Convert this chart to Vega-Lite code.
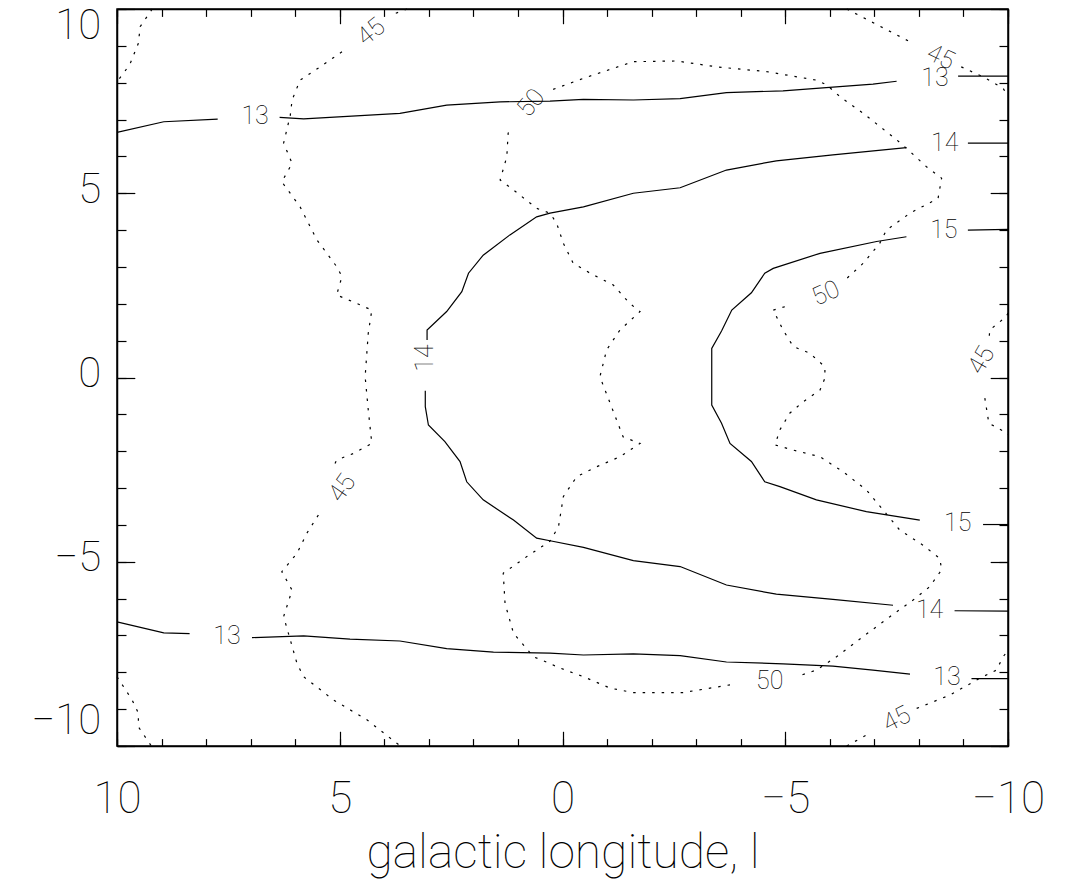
{
"$schema":"https://vega.github.io/schema/vega-lite/v6.json",
"width":891,"height":737,
"autosize":{"type":"none"},
"padding":{"left":117,"top":9,"right":57,"bottom":140},
"background":"white",
"config":{
 "view":{"stroke":"black","strokeWidth":1.5},
 "axis":{"grid":false,"domainColor":"black","domainWidth":1.5,"tickColor":"black","tickWidth":1.2,"labelColor":"black","titleColor":"black","labelFont":"Roboto","titleFont":"Roboto","labelFontWeight":100,"titleFontWeight":100,"labelFontSize":42,"titleFontSize":48},
 "text":{"font":"Roboto","fontWeight":100,"fontSize":25,"color":"black","align":"center","baseline":"middle"}
},
"datasets":{
"lines":[
{"level":13,"seg":"13ua","i":1,"l":10,"b":6.65},{"level":13,"seg":"13ua","i":2,"l":8.95,"b":6.94},{"level":13,"seg":"13ua","i":3,"l":7.74,"b":7.01},
{"level":13,"seg":"13ub","i":4,"l":6.35,"b":7.06},{"level":13,"seg":"13ub","i":5,"l":5.81,"b":7.02},{"level":13,"seg":"13ub","i":6,"l":3.65,"b":7.17},{"level":13,"seg":"13ub","i":7,"l":2.60,"b":7.39},{"level":13,"seg":"13ub","i":8,"l":1.40,"b":7.48},{"level":13,"seg":"13ub","i":9,"l":0.28,"b":7.50},{"level":13,"seg":"13ub","i":10,"l":-0.47,"b":7.55},{"level":13,"seg":"13ub","i":11,"l":-1.59,"b":7.53},{"level":13,"seg":"13ub","i":12,"l":-2.64,"b":7.57},{"level":13,"seg":"13ub","i":13,"l":-3.68,"b":7.73},{"level":13,"seg":"13ub","i":14,"l":-4.95,"b":7.78},{"level":13,"seg":"13ub","i":15,"l":-6.07,"b":7.88},{"level":13,"seg":"13ub","i":16,"l":-6.97,"b":7.96},{"level":13,"seg":"13ub","i":17,"l":-7.50,"b":8.04},
{"level":13,"seg":"13uc","i":18,"l":-8.88,"b":8.18},{"level":13,"seg":"13uc","i":19,"l":-10,"b":8.18},
{"level":14,"seg":"14r1","i":20,"l":-9.10,"b":6.36},{"level":14,"seg":"14r1","i":21,"l":-10,"b":6.36},
{"level":14,"seg":"14up","i":22,"l":-7.72,"b":6.24},{"level":14,"seg":"14up","i":23,"l":-6.07,"b":6.04},{"level":14,"seg":"14up","i":24,"l":-4.80,"b":5.88},{"level":14,"seg":"14up","i":25,"l":-3.68,"b":5.63},{"level":14,"seg":"14up","i":26,"l":-2.64,"b":5.15},{"level":14,"seg":"14up","i":27,"l":-1.59,"b":5.00},{"level":14,"seg":"14up","i":28,"l":-0.47,"b":4.63},{"level":14,"seg":"14up","i":29,"l":0.28,"b":4.46},{"level":14,"seg":"14up","i":30,"l":0.58,"b":4.36},{"level":14,"seg":"14up","i":31,"l":1.18,"b":3.87},{"level":14,"seg":"14up","i":32,"l":1.78,"b":3.32},{"level":14,"seg":"14up","i":33,"l":2.11,"b":2.83},{"level":14,"seg":"14up","i":34,"l":2.26,"b":2.33},{"level":14,"seg":"14up","i":35,"l":2.60,"b":1.79},{"level":14,"seg":"14up","i":36,"l":3.04,"b":1.29},{"level":14,"seg":"14up","i":37,"l":3.04,"b":1.02},
{"level":14,"seg":"14lo","i":38,"l":3.08,"b":-0.36},{"level":14,"seg":"14lo","i":39,"l":3.08,"b":-0.79},{"level":14,"seg":"14lo","i":40,"l":3.01,"b":-1.29},{"level":14,"seg":"14lo","i":41,"l":2.64,"b":-1.74},{"level":14,"seg":"14lo","i":42,"l":2.30,"b":-2.28},{"level":14,"seg":"14lo","i":43,"l":2.15,"b":-2.83},{"level":14,"seg":"14lo","i":44,"l":1.78,"b":-3.32},{"level":14,"seg":"14lo","i":45,"l":1.10,"b":-3.87},{"level":14,"seg":"14lo","i":46,"l":0.58,"b":-4.36},{"level":14,"seg":"14lo","i":47,"l":0.28,"b":-4.43},{"level":14,"seg":"14lo","i":48,"l":-0.47,"b":-4.61},{"level":14,"seg":"14lo","i":49,"l":-1.59,"b":-4.97},{"level":14,"seg":"14lo","i":50,"l":-2.64,"b":-5.13},{"level":14,"seg":"14lo","i":51,"l":-3.68,"b":-5.63},{"level":14,"seg":"14lo","i":52,"l":-4.80,"b":-5.88},{"level":14,"seg":"14lo","i":53,"l":-6.07,"b":-6.02},{"level":14,"seg":"14lo","i":54,"l":-7.42,"b":-6.18},
{"level":14,"seg":"14r2","i":55,"l":-8.80,"b":-6.33},{"level":14,"seg":"14r2","i":56,"l":-10,"b":-6.34},
{"level":15,"seg":"15r1","i":57,"l":-9.10,"b":4.00},{"level":15,"seg":"15r1","i":58,"l":-10,"b":4.02},
{"level":15,"seg":"15m","i":59,"l":-7.72,"b":3.82},{"level":15,"seg":"15m","i":60,"l":-7.05,"b":3.69},{"level":15,"seg":"15m","i":61,"l":-5.78,"b":3.37},{"level":15,"seg":"15m","i":62,"l":-4.73,"b":2.96},{"level":15,"seg":"15m","i":63,"l":-4.54,"b":2.83},{"level":15,"seg":"15m","i":64,"l":-4.24,"b":2.30},{"level":15,"seg":"15m","i":65,"l":-3.80,"b":1.83},{"level":15,"seg":"15m","i":66,"l":-3.57,"b":1.26},{"level":15,"seg":"15m","i":67,"l":-3.35,"b":0.79},{"level":15,"seg":"15m","i":68,"l":-3.35,"b":0},{"level":15,"seg":"15m","i":69,"l":-3.35,"b":-0.75},{"level":15,"seg":"15m","i":70,"l":-3.57,"b":-1.24},{"level":15,"seg":"15m","i":71,"l":-3.76,"b":-1.79},{"level":15,"seg":"15m","i":72,"l":-4.24,"b":-2.28},{"level":15,"seg":"15m","i":73,"l":-4.54,"b":-2.83},{"level":15,"seg":"15m","i":74,"l":-4.88,"b":-2.96},{"level":15,"seg":"15m","i":75,"l":-5.70,"b":-3.32},{"level":15,"seg":"15m","i":76,"l":-6.82,"b":-3.64},{"level":15,"seg":"15m","i":77,"l":-8.02,"b":-3.87},
{"level":15,"seg":"15r2","i":78,"l":-9.44,"b":-3.99},{"level":15,"seg":"15r2","i":79,"l":-10,"b":-3.99},
{"level":13,"seg":"13la","i":80,"l":10,"b":-6.63},{"level":13,"seg":"13la","i":81,"l":8.95,"b":-6.93},{"level":13,"seg":"13la","i":82,"l":8.37,"b":-6.95},
{"level":13,"seg":"13lb","i":83,"l":6.97,"b":-7.06},{"level":13,"seg":"13lb","i":84,"l":5.81,"b":-7.01},{"level":13,"seg":"13lb","i":85,"l":4.77,"b":-7.10},{"level":13,"seg":"13lb","i":86,"l":3.65,"b":-7.15},{"level":13,"seg":"13lb","i":87,"l":2.60,"b":-7.36},{"level":13,"seg":"13lb","i":88,"l":1.55,"b":-7.45},{"level":13,"seg":"13lb","i":89,"l":0.28,"b":-7.48},{"level":13,"seg":"13lb","i":90,"l":-0.47,"b":-7.53},{"level":13,"seg":"13lb","i":91,"l":-1.59,"b":-7.50},{"level":13,"seg":"13lb","i":92,"l":-2.64,"b":-7.55},{"level":13,"seg":"13lb","i":93,"l":-3.68,"b":-7.72},{"level":13,"seg":"13lb","i":94,"l":-4.95,"b":-7.77},{"level":13,"seg":"13lb","i":95,"l":-6.07,"b":-7.83},{"level":13,"seg":"13lb","i":96,"l":-6.97,"b":-7.94},{"level":13,"seg":"13lb","i":97,"l":-7.80,"b":-8.05},
{"level":13,"seg":"13lc","i":98,"l":-9.18,"b":-8.17},{"level":13,"seg":"13lc","i":99,"l":-10,"b":-8.17},
{"level":45,"seg":"45at","i":100,"l":3.49,"b":10},{"level":45,"seg":"45at","i":101,"l":3.80,"b":9.86},
{"level":45,"seg":"45am","i":102,"l":4.95,"b":8.84},{"level":45,"seg":"45am","i":103,"l":5.44,"b":8.43},{"level":45,"seg":"45am","i":104,"l":5.89,"b":8.07},{"level":45,"seg":"45am","i":105,"l":6.07,"b":7.53},{"level":45,"seg":"45am","i":106,"l":6.11,"b":7.12},{"level":45,"seg":"45am","i":107,"l":6.26,"b":6.36},{"level":45,"seg":"45am","i":108,"l":6.07,"b":5.81},{"level":45,"seg":"45am","i":109,"l":6.30,"b":5.31},{"level":45,"seg":"45am","i":110,"l":5.89,"b":4.63},{"level":45,"seg":"45am","i":111,"l":5.51,"b":3.73},{"level":45,"seg":"45am","i":112,"l":5.07,"b":3.01},{"level":45,"seg":"45am","i":113,"l":4.95,"b":2.74},{"level":45,"seg":"45am","i":114,"l":5.07,"b":2.24},{"level":45,"seg":"45am","i":115,"l":4.62,"b":2.01},{"level":45,"seg":"45am","i":116,"l":4.28,"b":1.83},{"level":45,"seg":"45am","i":117,"l":4.36,"b":1.20},{"level":45,"seg":"45am","i":118,"l":4.43,"b":0.02},{"level":45,"seg":"45am","i":119,"l":4.36,"b":-0.88},{"level":45,"seg":"45am","i":120,"l":4.28,"b":-1.79},{"level":45,"seg":"45am","i":121,"l":4.69,"b":-2.06},{"level":45,"seg":"45am","i":122,"l":5.07,"b":-2.24},{"level":45,"seg":"45am","i":123,"l":5.14,"b":-2.42},
{"level":45,"seg":"45al","i":124,"l":5.48,"b":-3.73},{"level":45,"seg":"45al","i":125,"l":5.74,"b":-4.23},{"level":45,"seg":"45al","i":126,"l":5.96,"b":-4.77},{"level":45,"seg":"45al","i":127,"l":6.30,"b":-5.27},{"level":45,"seg":"45al","i":128,"l":6.07,"b":-5.77},{"level":45,"seg":"45al","i":129,"l":6.26,"b":-6.49},{"level":45,"seg":"45al","i":130,"l":6.11,"b":-7.12},{"level":45,"seg":"45al","i":131,"l":5.96,"b":-7.76},{"level":45,"seg":"45al","i":132,"l":5.81,"b":-8.12},{"level":45,"seg":"45al","i":133,"l":5.14,"b":-8.75},{"level":45,"seg":"45al","i":134,"l":4.39,"b":-9.29},{"level":45,"seg":"45al","i":135,"l":3.64,"b":-10},
{"level":45,"seg":"45b","i":136,"l":9.21,"b":10},{"level":45,"seg":"45b","i":137,"l":9.48,"b":9.52},{"level":45,"seg":"45b","i":138,"l":9.52,"b":9.07},{"level":45,"seg":"45b","i":139,"l":9.70,"b":8.53},{"level":45,"seg":"45b","i":140,"l":9.85,"b":8.26},{"level":45,"seg":"45b","i":141,"l":10,"b":8.03},
{"level":45,"seg":"45c","i":142,"l":10,"b":-8.12},{"level":45,"seg":"45c","i":143,"l":9.66,"b":-8.75},{"level":45,"seg":"45c","i":144,"l":9.52,"b":-9.11},{"level":45,"seg":"45c","i":145,"l":9.52,"b":-9.48},{"level":45,"seg":"45c","i":146,"l":9.23,"b":-10},
{"level":45,"seg":"45da","i":147,"l":-6.38,"b":10},{"level":45,"seg":"45da","i":148,"l":-7.80,"b":9.11},
{"level":45,"seg":"45db","i":149,"l":-8.95,"b":8.43},{"level":45,"seg":"45db","i":150,"l":-9.44,"b":8.16},{"level":45,"seg":"45db","i":151,"l":-9.89,"b":7.85},{"level":45,"seg":"45db","i":152,"l":-10,"b":7.62},
{"level":45,"seg":"45ea","i":153,"l":-6.38,"b":-10},{"level":45,"seg":"45ea","i":154,"l":-6.90,"b":-9.65},
{"level":45,"seg":"45eb","i":155,"l":-7.95,"b":-8.98},{"level":45,"seg":"45eb","i":156,"l":-8.69,"b":-8.62},{"level":45,"seg":"45eb","i":157,"l":-9.37,"b":-8.16},{"level":45,"seg":"45eb","i":158,"l":-9.74,"b":-7.94},{"level":45,"seg":"45eb","i":159,"l":-9.89,"b":-7.58},{"level":45,"seg":"45eb","i":160,"l":-10,"b":-7.40},
{"level":45,"seg":"45fa","i":161,"l":-10,"b":1.75},{"level":45,"seg":"45fa","i":162,"l":-9.96,"b":1.65},{"level":45,"seg":"45fa","i":163,"l":-9.59,"b":1.29},{"level":45,"seg":"45fa","i":164,"l":-9.57,"b":0.96},
{"level":45,"seg":"45fb","i":165,"l":-9.48,"b":-0.56},{"level":45,"seg":"45fb","i":166,"l":-9.57,"b":-1.24},{"level":45,"seg":"45fb","i":167,"l":-9.77,"b":-1.37},{"level":45,"seg":"45fb","i":168,"l":-9.97,"b":-1.51},{"level":45,"seg":"45fb","i":169,"l":-10,"b":-1.55},
{"level":50,"seg":"50a","i":170,"l":0.21,"b":7.82},{"level":50,"seg":"50a","i":171,"l":-0.47,"b":8.12},{"level":50,"seg":"50a","i":172,"l":-1.59,"b":8.57},{"level":50,"seg":"50a","i":173,"l":-2.56,"b":8.59},{"level":50,"seg":"50a","i":174,"l":-3.46,"b":8.43},{"level":50,"seg":"50a","i":175,"l":-4.58,"b":8.30},{"level":50,"seg":"50a","i":176,"l":-5.70,"b":8.07},{"level":50,"seg":"50a","i":177,"l":-5.93,"b":7.94},{"level":50,"seg":"50a","i":178,"l":-6.23,"b":7.62},{"level":50,"seg":"50a","i":179,"l":-6.75,"b":7.17},{"level":50,"seg":"50a","i":180,"l":-7.50,"b":6.45},{"level":50,"seg":"50a","i":181,"l":-7.72,"b":6.22},{"level":50,"seg":"50a","i":182,"l":-8.17,"b":5.72},{"level":50,"seg":"50a","i":183,"l":-8.51,"b":5.41},{"level":50,"seg":"50a","i":184,"l":-8.43,"b":4.86},{"level":50,"seg":"50a","i":185,"l":-7.80,"b":4.46},{"level":50,"seg":"50a","i":186,"l":-7.27,"b":4.00},{"level":50,"seg":"50a","i":187,"l":-7.12,"b":3.64},{"level":50,"seg":"50a","i":188,"l":-6.75,"b":3.10},{"level":50,"seg":"50a","i":189,"l":-6.30,"b":2.60},
{"level":50,"seg":"50b","i":190,"l":-4.99,"b":1.92},{"level":50,"seg":"50b","i":191,"l":-4.73,"b":1.83},{"level":50,"seg":"50b","i":192,"l":-4.95,"b":1.29},{"level":50,"seg":"50b","i":193,"l":-5.18,"b":0.84},{"level":50,"seg":"50b","i":194,"l":-5.55,"b":0.66},{"level":50,"seg":"50b","i":195,"l":-5.89,"b":0.29},{"level":50,"seg":"50b","i":196,"l":-5.89,"b":-0.02},{"level":50,"seg":"50b","i":197,"l":-5.78,"b":-0.34},{"level":50,"seg":"50b","i":198,"l":-5.40,"b":-0.66},{"level":50,"seg":"50b","i":199,"l":-5.10,"b":-0.97},{"level":50,"seg":"50b","i":200,"l":-4.88,"b":-1.42},{"level":50,"seg":"50b","i":201,"l":-4.77,"b":-1.83},{"level":50,"seg":"50b","i":202,"l":-5.18,"b":-1.97},{"level":50,"seg":"50b","i":203,"l":-5.78,"b":-2.15},{"level":50,"seg":"50b","i":204,"l":-6.30,"b":-2.56},{"level":50,"seg":"50b","i":205,"l":-6.82,"b":-3.05},{"level":50,"seg":"50b","i":206,"l":-7.20,"b":-3.60},{"level":50,"seg":"50b","i":207,"l":-7.57,"b":-4.14},{"level":50,"seg":"50b","i":208,"l":-8.09,"b":-4.55},{"level":50,"seg":"50b","i":209,"l":-8.47,"b":-4.91},{"level":50,"seg":"50b","i":210,"l":-8.51,"b":-5.22},{"level":50,"seg":"50b","i":211,"l":-8.24,"b":-5.68},{"level":50,"seg":"50b","i":212,"l":-7.87,"b":-6.04},{"level":50,"seg":"50b","i":213,"l":-7.35,"b":-6.49},{"level":50,"seg":"50b","i":214,"l":-6.75,"b":-7.03},{"level":50,"seg":"50b","i":215,"l":-6.15,"b":-7.58},{"level":50,"seg":"50b","i":216,"l":-5.70,"b":-7.94},{"level":50,"seg":"50b","i":217,"l":-5.25,"b":-8.12},
{"level":50,"seg":"50c","i":218,"l":-3.76,"b":-8.34},{"level":50,"seg":"50c","i":219,"l":-2.71,"b":-8.55},{"level":50,"seg":"50c","i":220,"l":-1.59,"b":-8.55},{"level":50,"seg":"50c","i":221,"l":-1.07,"b":-8.43},{"level":50,"seg":"50c","i":222,"l":-0.47,"b":-8.12},{"level":50,"seg":"50c","i":223,"l":0.13,"b":-7.85},{"level":50,"seg":"50c","i":224,"l":0.28,"b":-7.76},{"level":50,"seg":"50c","i":225,"l":0.65,"b":-7.58},{"level":50,"seg":"50c","i":226,"l":1.10,"b":-6.94},{"level":50,"seg":"50c","i":227,"l":1.29,"b":-6.13},{"level":50,"seg":"50c","i":228,"l":1.33,"b":-5.31},{"level":50,"seg":"50c","i":229,"l":0.80,"b":-4.86},{"level":50,"seg":"50c","i":230,"l":0.28,"b":-4.44},{"level":50,"seg":"50c","i":231,"l":0.09,"b":-4.05},{"level":50,"seg":"50c","i":232,"l":-0.02,"b":-3.23},{"level":50,"seg":"50c","i":233,"l":-0.32,"b":-2.69},{"level":50,"seg":"50c","i":234,"l":-0.77,"b":-2.42},{"level":50,"seg":"50c","i":235,"l":-1.29,"b":-2.15},{"level":50,"seg":"50c","i":236,"l":-1.74,"b":-1.79},{"level":50,"seg":"50c","i":237,"l":-1.36,"b":-1.61},{"level":50,"seg":"50c","i":238,"l":-1.07,"b":-0.70},{"level":50,"seg":"50c","i":239,"l":-0.84,"b":0.02},{"level":50,"seg":"50c","i":240,"l":-0.99,"b":0.75},{"level":50,"seg":"50c","i":241,"l":-1.29,"b":1.29},{"level":50,"seg":"50c","i":242,"l":-1.74,"b":1.79},{"level":50,"seg":"50c","i":243,"l":-1.51,"b":2.01},{"level":50,"seg":"50c","i":244,"l":-1.14,"b":2.51},{"level":50,"seg":"50c","i":245,"l":-0.62,"b":2.83},{"level":50,"seg":"50c","i":246,"l":-0.24,"b":3.10},{"level":50,"seg":"50c","i":247,"l":-0.02,"b":3.64},{"level":50,"seg":"50c","i":248,"l":0.13,"b":4.18},{"level":50,"seg":"50c","i":249,"l":0.28,"b":4.46},{"level":50,"seg":"50c","i":250,"l":0.58,"b":4.59},{"level":50,"seg":"50c","i":251,"l":1.10,"b":5.09},{"level":50,"seg":"50c","i":252,"l":1.40,"b":5.36},{"level":50,"seg":"50c","i":253,"l":1.25,"b":5.99},{"level":50,"seg":"50c","i":254,"l":1.22,"b":6.63},{"level":50,"seg":"50c","i":255,"l":1.14,"b":6.81}
],
"labels":[
{"id":"L13a","txt":"13","l":6.90,"b":7.10},
{"id":"L13b","txt":"13","l":-8.36,"b":8.13},
{"id":"L14a","txt":"14","l":-8.58,"b":6.36},
{"id":"L14b","txt":"14","l":3.08,"b":0.53},
{"id":"L14c","txt":"14","l":-8.24,"b":-6.31},
{"id":"L15a","txt":"15","l":-8.56,"b":4.00},
{"id":"L15b","txt":"15","l":-8.87,"b":-3.95},
{"id":"L13c","txt":"13","l":7.53,"b":-7.01},
{"id":"L13d","txt":"13","l":-8.63,"b":-8.13},
{"id":"L45a","txt":"45","l":4.30,"b":9.38},
{"id":"L45b","txt":"45","l":-8.49,"b":8.70},
{"id":"L45c","txt":"45","l":4.95,"b":-3.00},
{"id":"L45d","txt":"45","l":-9.40,"b":0.47},
{"id":"L45e","txt":"45","l":-7.50,"b":-9.27},
{"id":"L50a","txt":"50","l":0.71,"b":7.45},
{"id":"L50b","txt":"50","l":-5.91,"b":2.29},
{"id":"L50c","txt":"50","l":-4.65,"b":-8.24}
]
},
"layer":[
{"data":{"name":"lines"},"transform":[{"filter":"datum.level < 40"}],
 "mark":{"type":"line","color":"black","strokeWidth":1.2},
 "encoding":{
  "x":{"field":"l","type":"quantitative","scale":{"domain":[-10,10],"reverse":true,"nice":false,"zero":false},
       "axis":{"orient":"bottom","values":[-10,-5,0,5,10],"tickSize":-14.7,"labelPadding":46,"labelFontSize":44,"labelFlush":false,"format":"d","title":"galactic longitude, l","titlePadding":8}},
  "y":{"field":"b","type":"quantitative","scale":{"domain":[-10,10],"nice":false,"zero":false},
       "axis":{"orient":"left","values":[-10,-5,0,5,10],"tickSize":-17.8,"labelPadding":34,"labelFlush":true,"labelOffset":-4,"format":"d","title":null}},
  "detail":{"field":"seg"},"order":{"field":"i"}}},
{"data":{"name":"lines"},"transform":[{"filter":"datum.level > 40"}],
 "mark":{"type":"line","color":"black","strokeWidth":1.2,"strokeDash":[2.5,7]},
 "encoding":{
  "x":{"field":"l","type":"quantitative","scale":{"domain":[-10,10],"reverse":true,"nice":false,"zero":false},
       "axis":{"orient":"bottom","values":[-10,-9,-8,-7,-6,-5,-4,-3,-2,-1,0,1,2,3,4,5,6,7,8,9,10],"tickSize":-7.4,"labels":false,"domain":false,"title":null}},
  "y":{"field":"b","type":"quantitative","scale":{"domain":[-10,10],"nice":false,"zero":false},
       "axis":{"orient":"left","values":[-10,-9,-8,-7,-6,-5,-4,-3,-2,-1,0,1,2,3,4,5,6,7,8,9,10],"tickSize":-9,"labels":false,"domain":false,"title":null}},
  "detail":{"field":"seg"},"order":{"field":"i"}}},
{"data":{"name":"labels"},"transform":[{"filter":{"field":"id","oneOf":["L13a","L13b","L14a","L14c","L15a","L15b","L13c","L13d","L50c"]}}],
 "mark":{"type":"text"},
 "encoding":{
  "x":{"field":"l","type":"quantitative","scale":{"domain":[-10,10],"reverse":true,"nice":false,"zero":false},
       "axis":{"orient":"top","values":[-10,-5,0,5,10],"tickSize":-14.7,"labels":false,"title":null}},
  "y":{"field":"b","type":"quantitative","scale":{"domain":[-10,10],"nice":false,"zero":false},
       "axis":{"orient":"right","values":[-10,-5,0,5,10],"tickSize":-17.8,"labels":false,"title":null}},
  "text":{"field":"txt"}}},
{"data":{"name":"labels"},"transform":[{"filter":{"field":"id","equal":"L14b"}}],
 "mark":{"type":"text","angle":-90},
 "encoding":{
  "x":{"field":"l","type":"quantitative","scale":{"domain":[-10,10],"reverse":true,"nice":false,"zero":false},
       "axis":{"orient":"top","values":[-10,-9,-8,-7,-6,-5,-4,-3,-2,-1,0,1,2,3,4,5,6,7,8,9,10],"tickSize":-7.4,"labels":false,"domain":false,"title":null}},
  "y":{"field":"b","type":"quantitative","scale":{"domain":[-10,10],"nice":false,"zero":false},
       "axis":{"orient":"right","values":[-10,-9,-8,-7,-6,-5,-4,-3,-2,-1,0,1,2,3,4,5,6,7,8,9,10],"tickSize":-9,"labels":false,"domain":false,"title":null}},
  "text":{"field":"txt"}}},
{"data":{"name":"labels"},"transform":[{"filter":{"field":"id","equal":"L45a"}}],
 "mark":{"type":"text","angle":-39},
 "encoding":{"x":{"field":"l","type":"quantitative","axis":null},"y":{"field":"b","type":"quantitative","axis":null},"text":{"field":"txt"}}},
{"data":{"name":"labels"},"transform":[{"filter":{"field":"id","equal":"L45b"}}],
 "mark":{"type":"text","angle":25},
 "encoding":{"x":{"field":"l","type":"quantitative","axis":null},"y":{"field":"b","type":"quantitative","axis":null},"text":{"field":"txt"}}},
{"data":{"name":"labels"},"transform":[{"filter":{"field":"id","equal":"L45c"}}],
 "mark":{"type":"text","angle":-55},
 "encoding":{"x":{"field":"l","type":"quantitative","axis":null},"y":{"field":"b","type":"quantitative","axis":null},"text":{"field":"txt"}}},
{"data":{"name":"labels"},"transform":[{"filter":{"field":"id","equal":"L45d"}}],
 "mark":{"type":"text","angle":-60},
 "encoding":{"x":{"field":"l","type":"quantitative","axis":null},"y":{"field":"b","type":"quantitative","axis":null},"text":{"field":"txt"}}},
{"data":{"name":"labels"},"transform":[{"filter":{"field":"id","equal":"L45e"}}],
 "mark":{"type":"text","angle":-27},
 "encoding":{"x":{"field":"l","type":"quantitative","axis":null},"y":{"field":"b","type":"quantitative","axis":null},"text":{"field":"txt"}}},
{"data":{"name":"labels"},"transform":[{"filter":{"field":"id","equal":"L50a"}}],
 "mark":{"type":"text","angle":-50},
 "encoding":{"x":{"field":"l","type":"quantitative","axis":null},"y":{"field":"b","type":"quantitative","axis":null},"text":{"field":"txt"}}},
{"data":{"name":"labels"},"transform":[{"filter":{"field":"id","equal":"L50b"}}],
 "mark":{"type":"text","angle":-24},
 "encoding":{"x":{"field":"l","type":"quantitative","axis":null},"y":{"field":"b","type":"quantitative","axis":null},"text":{"field":"txt"}}}
],
"resolve":{"axis":{"x":"independent","y":"independent"}}
}
